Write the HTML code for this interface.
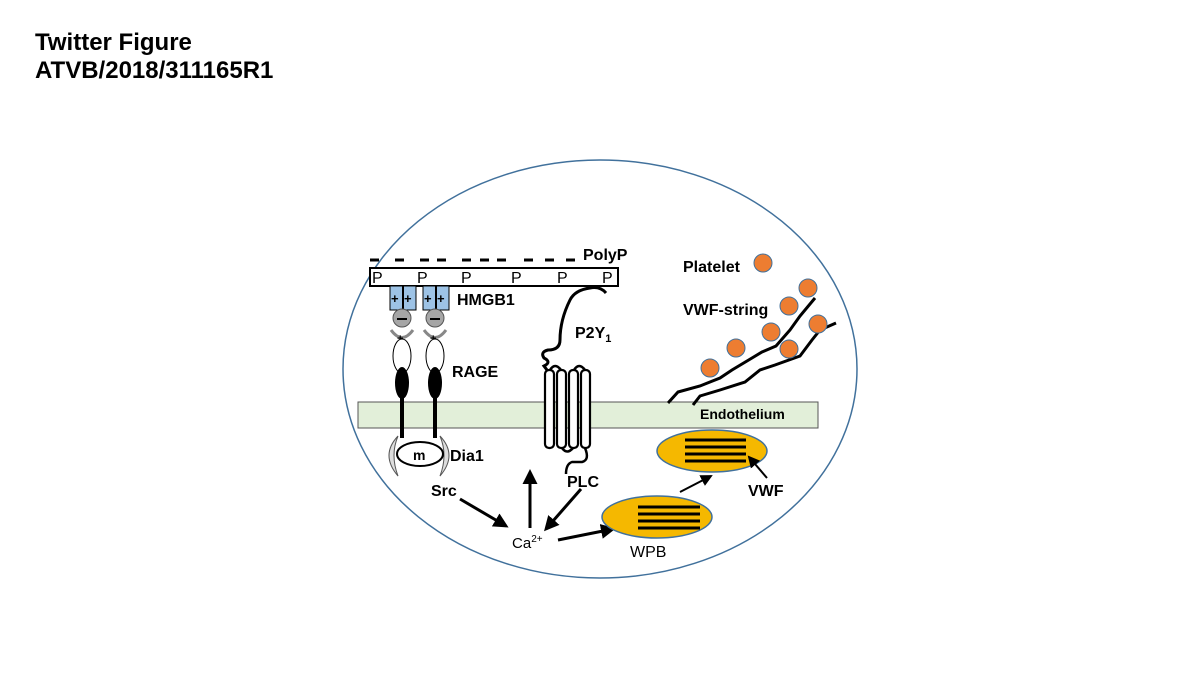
<!DOCTYPE html>
<html><head><meta charset="utf-8"><style>
html,body{margin:0;padding:0;background:#fff;}
svg{display:block;font-family:"Liberation Sans",Arial,sans-serif;font-weight:bold;}
</style></head><body>
<svg width="1200" height="675" viewBox="0 0 1200 675" xmlns="http://www.w3.org/2000/svg">
<defs>
<marker id="ah" markerWidth="5" markerHeight="5" refX="4" refY="2.5" orient="auto" markerUnits="strokeWidth">
<path d="M0,0 L5,2.5 L0,5 z" fill="#000"/></marker>
<marker id="ah2" markerWidth="6" markerHeight="6" refX="5" refY="3" orient="auto" markerUnits="strokeWidth">
<path d="M0,0 L6,3 L0,6 z" fill="#000"/></marker>
</defs>
<text x="35" y="50" font-size="24" fill="#000">Twitter Figure</text>
<text x="35" y="78" font-size="24" fill="#000">ATVB/2018/311165R1</text>

<ellipse cx="600" cy="369" rx="257" ry="209" fill="none" stroke="#41719c" stroke-width="1.5"/>

<!-- membrane -->
<rect x="358" y="402" width="460" height="26" fill="#e2efd9" stroke="#555" stroke-width="1"/>
<text x="700" y="419" font-size="14">Endothelium</text>

<!-- PolyP -->
<g stroke="#000" stroke-width="3">
<line x1="370" y1="260" x2="379" y2="260"/><line x1="395" y1="260" x2="404" y2="260"/>
<line x1="420" y1="260" x2="429" y2="260"/><line x1="437" y1="260" x2="446" y2="260"/>
<line x1="462" y1="260" x2="471" y2="260"/><line x1="480" y1="260" x2="489" y2="260"/>
<line x1="497" y1="260" x2="506" y2="260"/><line x1="524" y1="260" x2="533" y2="260"/>
<line x1="545" y1="260" x2="554" y2="260"/><line x1="566" y1="260" x2="575" y2="260"/>
</g>
<text x="583" y="260" font-size="16">PolyP</text>
<rect x="370" y="268" width="248" height="18" fill="#fff" stroke="#000" stroke-width="2"/>
<g font-size="16" font-weight="normal">
<text x="372" y="283">P</text><text x="417" y="283">P</text><text x="461" y="283">P</text>
<text x="511" y="283">P</text><text x="557" y="283">P</text><text x="602" y="283">P</text>
</g>

<!-- HMGB1 -->
<g stroke="#000" stroke-width="1">
<rect x="390" y="286" width="26" height="24" fill="#9dc3e6"/>
<rect x="423" y="286" width="26" height="24" fill="#9dc3e6"/>
<line x1="403" y1="286" x2="403" y2="310" stroke-width="2"/>
<line x1="436" y1="286" x2="436" y2="310" stroke-width="2"/>
</g>
<g font-size="13"><text x="391" y="303">+</text><text x="404" y="303">+</text><text x="424" y="303">+</text><text x="437" y="303">+</text></g>
<text x="457" y="305" font-size="16">HMGB1</text>
<circle cx="402" cy="318" r="9" fill="#a6a6a6" stroke="#555"/>
<circle cx="435" cy="318" r="9" fill="#a6a6a6" stroke="#555"/>
<line x1="397" y1="319" x2="407" y2="319" stroke="#000" stroke-width="2"/>
<line x1="430" y1="319" x2="440" y2="319" stroke="#000" stroke-width="2"/>

<!-- RAGE -->
<g>
<path d="M391,330 Q402,345 413,330" fill="none" stroke="#888" stroke-width="3"/>
<path d="M424,330 Q435,345 446,330" fill="none" stroke="#888" stroke-width="3"/>
<text x="397" y="342" font-size="11">+</text><text x="430" y="342" font-size="11">+</text>
<ellipse cx="402" cy="356" rx="9" ry="17" fill="#fff" stroke="#000"/>
<ellipse cx="435" cy="356" rx="9" ry="17" fill="#fff" stroke="#000"/>
<ellipse cx="402" cy="383" rx="7" ry="16" fill="#000"/>
<ellipse cx="435" cy="383" rx="7" ry="16" fill="#000"/>
<line x1="402" y1="395" x2="402" y2="438" stroke="#000" stroke-width="4"/>
<line x1="435" y1="395" x2="435" y2="438" stroke="#000" stroke-width="4"/>
</g>
<text x="452" y="377" font-size="16">RAGE</text>
<path d="M398,436 Q380,455 398,476 Q390,455 398,436z" fill="#ddd" stroke="#555"/>
<path d="M440,436 Q458,455 440,476 Q448,455 440,436z" fill="#ddd" stroke="#555"/>
<ellipse cx="420" cy="454" rx="23" ry="12" fill="#fff" stroke="#000" stroke-width="2"/>
<text x="413" y="460" font-size="14">m</text>
<text x="450" y="461" font-size="16">Dia1</text>
<text x="431" y="496" font-size="16">Src</text>

<!-- P2Y1 -->
<path d="M606,293 Q600,286 590,288 Q575,290 570,300 Q560,320 560,340 Q560,350 548,350 Q540,352 544,358 Q552,362 544,366 L547,370" fill="none" stroke="#000" stroke-width="3"/>
<text x="575" y="338" font-size="16">P2Y<tspan font-size="11" dy="4">1</tspan></text>
<g fill="#fff" stroke="#000" stroke-width="2.2">
<rect x="545" y="370" width="9" height="78" rx="4"/>
<rect x="557" y="370" width="9" height="78" rx="4"/>
<rect x="569" y="370" width="9" height="78" rx="4"/>
<rect x="581" y="370" width="9" height="78" rx="4"/>
</g>
<g fill="none" stroke="#000" stroke-width="2.5">
<path d="M550,370 Q555,362 561,370"/><path d="M574,370 Q579,362 585,370"/>
<path d="M562,448 Q567,455 573,448"/>
<path d="M585,448 Q590,460 582,462 L572,462 Q566,464 566,474"/>
</g>
<text x="567" y="487" font-size="16">PLC</text>

<!-- arrows -->
<g stroke="#000" stroke-width="3" fill="none">
<line x1="460" y1="499" x2="506" y2="526" marker-end="url(#ah)"/>
<line x1="530" y1="528" x2="530" y2="472" marker-end="url(#ah)"/>
<line x1="581" y1="489" x2="546" y2="529" marker-end="url(#ah)"/>
<line x1="558" y1="540" x2="613" y2="529" marker-end="url(#ah)"/>
</g>
<text x="512" y="548" font-size="15" font-weight="normal">Ca<tspan font-size="10" dy="-6">2+</tspan></text>

<!-- WPB -->
<ellipse cx="657" cy="517" rx="55" ry="21" fill="#f5b800" stroke="#41719c" stroke-width="1.5"/>
<g stroke="#000" stroke-width="3">
<line x1="638" y1="507" x2="700" y2="507"/><line x1="638" y1="514" x2="700" y2="514"/>
<line x1="638" y1="521" x2="700" y2="521"/><line x1="638" y1="528" x2="700" y2="528"/>
</g>
<text x="630" y="557" font-size="16" font-weight="normal">WPB</text>
<line x1="680" y1="492" x2="711" y2="476" stroke="#000" stroke-width="2" marker-end="url(#ah2)"/>
<ellipse cx="712" cy="451" rx="55" ry="21" fill="#f5b800" stroke="#41719c" stroke-width="1.5"/>
<g stroke="#000" stroke-width="3">
<line x1="685" y1="440" x2="746" y2="440"/><line x1="685" y1="447" x2="746" y2="447"/>
<line x1="685" y1="454" x2="746" y2="454"/><line x1="685" y1="461" x2="746" y2="461"/>
</g>
<line x1="767" y1="478" x2="749" y2="457" stroke="#000" stroke-width="2" marker-end="url(#ah2)"/>
<text x="748" y="496" font-size="16">VWF</text>

<!-- VWF strings -->
<g fill="none" stroke="#000" stroke-width="3">
<path d="M668,403 L678,392 L700,386 L720,378 L732,370 L752,358 L762,352 L776,346 L790,330 L800,316 L815,298"/>
<path d="M693,405 L700,396 L720,390 L745,382 L760,370 L775,365 L800,356 L812,340 L820,330 L836,323"/>
</g>
<g fill="#ed7d31" stroke="#41719c" stroke-width="1">
<circle cx="710" cy="368" r="9"/><circle cx="736" cy="348" r="9"/>
<circle cx="771" cy="332" r="9"/><circle cx="789" cy="306" r="9"/>
<circle cx="808" cy="288" r="9"/><circle cx="818" cy="324" r="9"/>
<circle cx="789" cy="349" r="9"/><circle cx="763" cy="263" r="9"/>
</g>
<text x="683" y="272" font-size="16">Platelet</text>
<text x="683" y="315" font-size="16">VWF-string</text>
</svg>
</body></html>
